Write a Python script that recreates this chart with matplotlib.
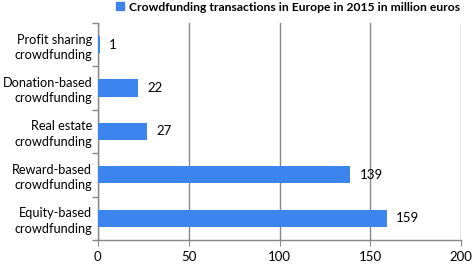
import matplotlib
matplotlib.use("Agg")
import matplotlib.pyplot as plt
from matplotlib.patches import Patch

categories = ["Equity-based\ncrowdfunding", "Reward-based\ncrowdfunding",
              "Real estate\ncrowdfunding", "Donation-based\ncrowdfunding",
              "Profit sharing\ncrowdfunding"]
values = [159, 139, 27, 22, 1]
series_name = "Crowdfunding transactions in Europe in 2015 in million euros"
xticks = [0, 50, 100, 150, 200]

plt.rcParams['font.family'] = ['Lato', 'DejaVu Sans']
color = '#3D85EE'

fig = plt.figure(figsize=(4.73, 2.66), dpi=100)
ax = fig.add_axes([0.207, 0.098, 0.768, 0.816])

y = range(len(categories))
ax.barh(y, values, height=0.4, color=color, zorder=3)
for yi, v in zip(y, values):
    ax.text(v + 5, yi, str(v), va='center', ha='left', fontsize=9.5, color='black')

ax.set_xlim(0, 200)
ax.set_ylim(-0.5, len(categories) - 0.5)
ax.set_xticks(xticks)
ax.set_yticks(list(y))
ax.set_yticklabels(categories, fontsize=9.2, linespacing=1.35)
ax.set_yticks([i - 0.5 for i in range(len(categories) + 1)], minor=True)
ax.tick_params(axis='y', which='major', length=0, pad=4)
ax.tick_params(axis='y', which='minor', length=4, color='#888888', width=1)
ax.tick_params(axis='x', length=4, color='#888888', labelsize=9.5, pad=4)
ax.grid(axis='x', color='#888888', linewidth=1, zorder=0)
for s in ['top', 'right']:
    ax.spines[s].set_visible(False)
for s in ['left', 'bottom']:
    ax.spines[s].set_color('#888888')
    ax.spines[s].set_linewidth(1)

fig.legend(handles=[Patch(color=color)], labels=[series_name],
           loc='upper center', bbox_to_anchor=(0.609, 1.035), frameon=False,
           prop={'weight': 'bold', 'size': 8.7}, handlelength=0.6, handleheight=0.6,
           handletextpad=0.4)

fig.savefig("out.png", dpi=100)
